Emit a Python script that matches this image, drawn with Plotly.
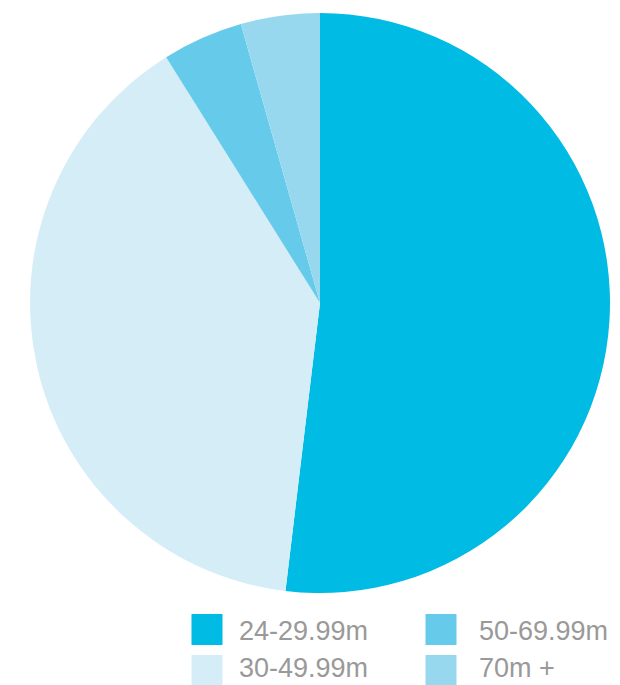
import plotly.graph_objects as go

labels = ["24-29.99m", "30-49.99m", "50-69.99m", "70m +"]
values = [51.9, 39.2, 4.5, 4.4]
colors = ["#00bbe3", "#d5edf7", "#66cbea", "#97d8ef"]

W, H = 620, 685
ml, mr, mt, mb = 30, 10, 13, 92
pw, ph = W - ml - mr, H - mt - mb

def px_x(x):
    return (x - ml) / pw

def px_y(y):
    return (H - mb - y) / ph

fig = go.Figure(go.Pie(
    labels=labels, values=values, sort=False, direction="clockwise",
    rotation=0, marker=dict(colors=colors, line=dict(width=0)),
    textinfo="none", hoverinfo="label+percent", showlegend=False,
))

# custom two-column legend (column-major order)
col_sq_x = [191.5, 425.5]
col_tx_x = [236.5, 476.5]
row_sq_y = [614, 655]
row_tx_bottom = [648, 685]
sq = 31
shapes, annos = [], []
for i, (lab, col) in enumerate(zip(labels, colors)):
    c, r = divmod(i, 2)
    shapes.append(dict(type="rect", xref="paper", yref="paper",
                       x0=px_x(col_sq_x[c]), x1=px_x(col_sq_x[c] + sq),
                       y0=px_y(row_sq_y[r] + sq), y1=px_y(row_sq_y[r]),
                       fillcolor=col, line=dict(width=0)))
    annos.append(dict(text=lab, xref="paper", yref="paper",
                      x=px_x(col_tx_x[c]), y=px_y(row_tx_bottom[r]),
                      xanchor="left", yanchor="bottom", showarrow=False,
                      font=dict(family="Liberation Sans, Arial", size=27, color="#999999")))

fig.update_layout(
    width=W, height=H, margin=dict(l=ml, r=mr, t=mt, b=mb),
    paper_bgcolor="white", plot_bgcolor="white",
    shapes=shapes, annotations=annos, showlegend=False,
)

fig.write_html("out.html")
